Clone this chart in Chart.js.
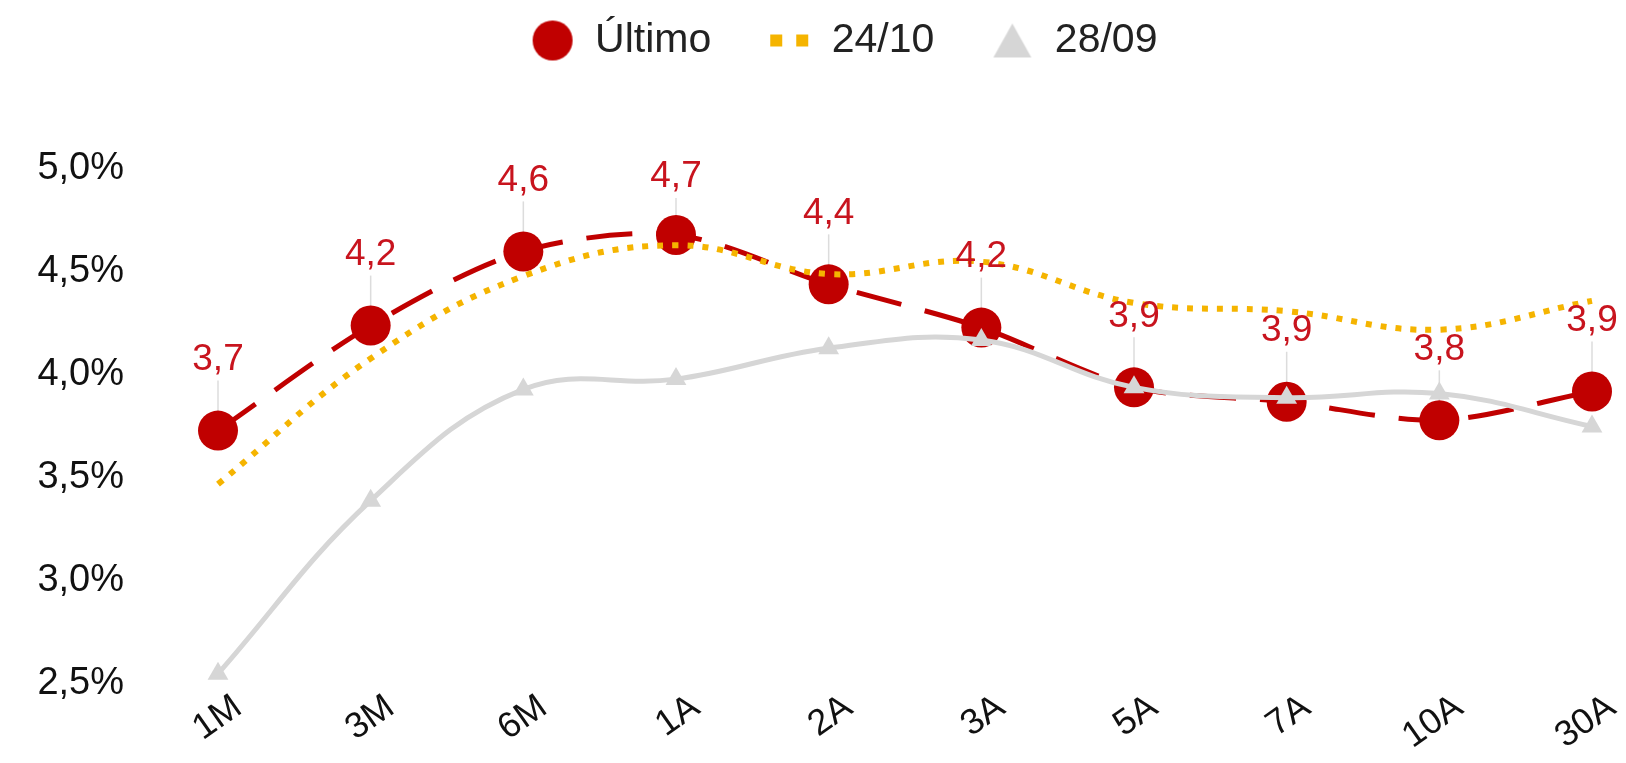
<!DOCTYPE html>
<html>
<head>
<meta charset="utf-8">
<script src="https://cdn.jsdelivr.net/npm/chart.js@4.4.1/dist/chart.umd.min.js"></script>
<style>
  html, body { margin: 0; padding: 0; background: #fff; }
  #wrap { width: 1626px; height: 763px; position: relative; }
</style>
</head>
<body>
<div id="wrap"><canvas id="curveChart"></canvas></div>
<script>
// data
var labels = ['1M', '3M', '6M', '1A', '2A', '3A', '5A', '7A', '10A', '30A'];
var ultimo = [3.73, 4.24, 4.60, 4.68, 4.44, 4.23, 3.94, 3.87, 3.78, 3.92];
var oct24 = [3.47, 4.08, 4.48, 4.63, 4.49, 4.55, 4.35, 4.31, 4.22, 4.36];
var sep28 = [2.55, 3.39, 3.93, 3.98, 4.13, 4.17, 3.94, 3.89, 3.91, 3.75];
var seriesNames = ['Último', '24/10', '28/09'];

var RED = '#c00000';
var YELLOW = '#f5b400';
var GREY = '#d6d6d6';
var FONT = "'Liberation Sans', Arial, sans-serif";

function fmt(v) {
  return v.toFixed(1).replace('.', ',');
}

// small canvases used as legend symbols
function legendIcon(kind) {
  var c = document.createElement('canvas');
  var g = c.getContext('2d');
  if (kind == 'circle') {
    c.width = 42; c.height = 42;
    g.fillStyle = RED;
    g.beginPath(); g.arc(21, 21, 20, 0, 2 * Math.PI); g.fill();
  } else if (kind == 'dots') {
    c.width = 42; c.height = 14;
    g.fillStyle = YELLOW;
    g.fillRect(2, 1, 12, 12);
    g.fillRect(28, 1, 12, 12);
  } else {
    c.width = 40; c.height = 36;
    g.fillStyle = GREY;
    g.beginPath(); g.moveTo(20, 1); g.lineTo(39, 35); g.lineTo(1, 35); g.closePath(); g.fill();
  }
  return c;
}
var icons = [legendIcon('circle'), legendIcon('dots'), legendIcon('triangle')];

// where a value label goes: above the point, but not above the plot top
function labelY(chart, p) {
  return Math.max(p.y - 71, chart.chartArea.top + 8);
}

// value labels above the red points, with a thin leader line
var valueLabels = {
  id: 'valueLabels',
  beforeDatasetsDraw: function(chart) {
    var ctx = chart.ctx;
    var pts = chart.getDatasetMeta(0).data;
    ctx.save();
    ctx.strokeStyle = '#dcdcdc';
    ctx.lineWidth = 1.5;
    pts.forEach(function(p) {
      ctx.beginPath();
      ctx.moveTo(p.x, labelY(chart, p) + 21);
      ctx.lineTo(p.x, p.y - 15);
      ctx.stroke();
    });
    ctx.restore();
  },
  afterDatasetsDraw: function(chart) {
    var ctx = chart.ctx;
    var pts = chart.getDatasetMeta(0).data;
    ctx.save();
    ctx.fillStyle = '#c8141e';
    ctx.font = '37px ' + FONT;
    ctx.textAlign = 'center';
    ctx.textBaseline = 'middle';
    pts.forEach(function(p, i) {
      ctx.fillText(fmt(ultimo[i]), p.x, labelY(chart, p));
    });
    ctx.restore();
  }
};

// legend sits high and a bit right, chart area starts lower
var legendSpace = {
  id: 'legendSpace',
  beforeInit: function(chart) {
    var fit = chart.legend.fit;
    chart.legend.fit = function() {
      fit.bind(chart.legend)();
      this.height = 169;
    };
  },
  afterLayout: function(chart) {
    chart.legend.top = -36;
    chart.legend.left += 48;
    chart.legend.right += 48;
  }
};

var ctx = document.getElementById('curveChart').getContext('2d');
var myChart = new Chart(ctx, {
  type: 'line',
  data: {
    labels: labels,
    datasets: [{
      label: seriesNames[0],
      data: ultimo,
      borderColor: RED,
      borderWidth: 5,
      borderDash: [46, 24],
      tension: 0.3,
      pointRadius: 20,
      pointBackgroundColor: RED,
      pointBorderWidth: 0,
      order: 3
    }, {
      label: seriesNames[1],
      data: oct24,
      borderColor: YELLOW,
      borderWidth: 6,
      borderDash: [6, 9],
      tension: 0.4,
      pointRadius: 0,
      order: 2
    }, {
      label: seriesNames[2],
      data: sep28,
      borderColor: GREY,
      borderWidth: 5,
      tension: 0.4,
      pointStyle: 'triangle',
      pointRadius: 12,
      pointBackgroundColor: GREY,
      pointBorderWidth: 0,
      order: 1
    }]
  },
  options: {
    responsive: true,
    maintainAspectRatio: false,
    animation: false,
    layout: { padding: { left: 0, right: 34, top: 0, bottom: 0 } },
    plugins: {
      tooltip: { enabled: false },
      legend: {
        position: 'top',
        labels: {
          usePointStyle: true,
          pointStyleWidth: 44,
          boxHeight: 41,
          padding: 56,
          color: '#222',
          font: { family: FONT, size: 41 },
          sort: function(a, b) { return a.datasetIndex - b.datasetIndex; },
          generateLabels: function(chart) {
            var items = Chart.defaults.plugins.legend.labels.generateLabels(chart);
            items.forEach(function(it) { it.pointStyle = icons[it.datasetIndex]; });
            return items;
          }
        }
      }
    },
    scales: {
      x: {
        grid: { display: false, drawTicks: false },
        border: { display: false },
        ticks: {
          color: '#111',
          font: { family: FONT, size: 36 },
          minRotation: 35,
          maxRotation: 35,
          padding: 2,
          labelOffset: 20
        },
        afterFit: function(scale) { scale.height = 79; }
      },
      y: {
        min: 2.5,
        max: 5.0,
        grid: { display: false, drawTicks: false },
        border: { display: false },
        ticks: {
          stepSize: 0.5,
          color: '#111',
          font: { family: FONT, size: 38 },
          padding: 94,
          callback: function(v) { return fmt(v) + '%'; }
        },
        afterFit: function(scale) {
          scale.width = 218;
          scale.paddingTop = 0;
          scale.paddingBottom = 0;
        }
      }
    }
  },
  plugins: [valueLabels, legendSpace]
});
</script>
</body>
</html>
